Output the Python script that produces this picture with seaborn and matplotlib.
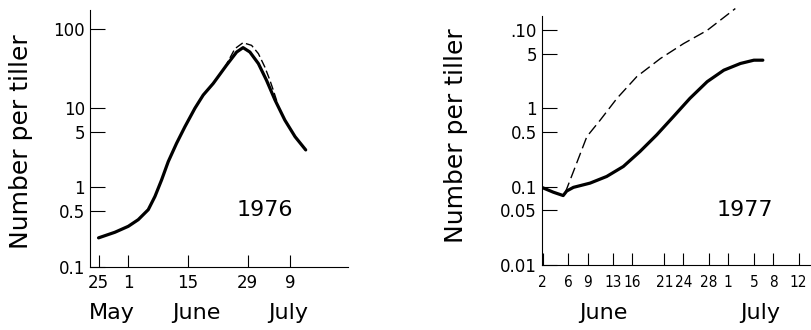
#!/usr/bin/env python3
"""Number per tiller through the season, 1976 and 1977 (log scale)

Usage:
    <program>
"""

# Modules
import matplotlib
matplotlib.use("Agg")

import pandas as pd
import matplotlib.pyplot as plt
import seaborn as sns
from matplotlib.ticker import FixedLocator, NullLocator, FixedFormatter

# Data
# 1976: days counted from 25 May
days_1976 = [0, 3.85, 6.97, 9.31, 11.66, 13.23, 14.8, 16.35, 18.3, 20.26, 22.6, 24.55,
             26.9, 30.0, 32.4, 33.9, 35.5, 37.5, 39.4, 41.4, 43.7, 46.1, 48.6]
solid_1976 = [0.231, 0.272, 0.323, 0.392, 0.524, 0.77, 1.25, 2.12, 3.61, 5.85, 10.0, 14.7,
              20.6, 34.9, 51.4, 58.4, 51.4, 36.7, 22.6, 12.7, 7.1, 4.38, 2.98]
dash_days_1976 = [29.5, 32.0, 33.9, 35.9, 37.5, 39.0, 40.2, 41.0, 42.0]
dash_1976 = [32.0, 56.7, 67.4, 62.4, 49.0, 33.3, 22.6, 16.9, 11.5]
xticks_1976 = [0, 7, 21, 35, 45]
xticklabels_1976 = ["25", "1", "15", "29", "9"]
yticks_1976 = [0.1, 0.5, 1, 5, 10, 100]
yticklabels_1976 = ["0.1", "0.5", "1", "5", "10", "100"]
months_1976 = ["May", "June", "July"]

# 1977: days counted from 31 May
days_1977 = [1.85, 3.66, 5.2, 5.75, 6.8, 9.4, 12, 14.6, 17.2, 19.8, 22.4, 25, 27.7, 30.3, 32.9, 35, 36.4]
solid_1977 = [0.098, 0.085, 0.077, 0.088, 0.098, 0.111, 0.135, 0.181, 0.281, 0.457, 0.78, 1.34, 2.19,
              3.07, 3.74, 4.12, 4.12]
dash_days_1977 = [5.5, 6.8, 8.9, 11, 13.6, 16.7, 20.4, 24, 27.7, 32.1]
dash_1977 = [0.083, 0.156, 0.436, 0.71, 1.34, 2.54, 4.33, 6.7, 9.9, 18.8]
xticks_1977 = [2, 6, 9, 13, 16, 21, 24, 28, 31, 35, 38, 42]
xticklabels_1977 = ["2", "6", "9", "13", "16", "21", "24", "28", "1", "5", "8", "12"]
yticks_1977 = [0.01, 0.05, 0.1, 0.5, 1, 5, 10]
yticklabels_1977 = ["0.01", "0.05", "0.1", "0.5", "1", "5", ".10"]
months_1977 = ["June", "July"]

# Style
sns.set_style("ticks")
plt.rcParams["font.family"] = ["DejaVu Sans"]
plt.rcParams["axes.linewidth"] = 0.8
for key in ["text.color", "axes.labelcolor", "xtick.color", "ytick.color", "axes.edgecolor"]:
    plt.rcParams[key] = "black"

fig = plt.figure(figsize=(8.11, 3.30), dpi=100)
ax1 = fig.add_axes([0.111, 0.192, 0.318, 0.778])
ax2 = fig.add_axes([0.668, 0.197, 0.331, 0.7545])

# Left panel, 1976
df = pd.DataFrame({"day": days_1976, "n": solid_1976})
dfd = pd.DataFrame({"day": dash_days_1976, "n": dash_1976})
sns.lineplot(data=dfd, x="day", y="n", ax=ax1, color="black", lw=1.0,
             linestyle=(0, (6, 2.5)), sort=False)
sns.lineplot(data=df, x="day", y="n", ax=ax1, color="black", lw=2.3, sort=False)

# Right panel, 1977
df = pd.DataFrame({"day": days_1977, "n": solid_1977})
dfd = pd.DataFrame({"day": dash_days_1977, "n": dash_1977})
sns.lineplot(data=dfd, x="day", y="n", ax=ax2, color="black", lw=1.0,
             linestyle=(0, (8, 3.5)), sort=False, clip_on=False)
sns.lineplot(data=df, x="day", y="n", ax=ax2, color="black", lw=2.3, sort=False)

# Axes
settings = [
    (ax1, (-2.0, 58.5), (0.1, 175), xticks_1976, xticklabels_1976, yticks_1976, yticklabels_1976, 12, 5),
    (ax2, (1.85, 43.8), (0.01, 15.1), xticks_1977, xticklabels_1977, yticks_1977, yticklabels_1977, 11, 7),
]
for ax, xl, yl, xt, xtl, yt, ytl, xfs, xpad in settings:
    ax.set_yscale("log")
    ax.set_xlim(*xl)
    ax.set_ylim(*yl)
    ax.xaxis.set_major_locator(FixedLocator(xt))
    ax.xaxis.set_major_formatter(FixedFormatter(xtl))
    ax.yaxis.set_major_locator(FixedLocator(yt))
    ax.yaxis.set_major_formatter(FixedFormatter(ytl))
    ax.yaxis.set_minor_locator(NullLocator())
    ax.xaxis.set_minor_locator(NullLocator())
    sns.despine(ax=ax)
    ax.tick_params(axis="y", direction="in", length=11, width=0.8, pad=3.5, labelsize=12)
    ax.tick_params(axis="x", direction="in", length=9, width=0.8, pad=xpad, labelsize=xfs)
    ax.set_xlabel("")
    ax.set_ylabel("Number per tiller", fontsize=18)

for lbl in ax2.get_xticklabels():
    lbl.set_fontstretch("condensed")

ax1.yaxis.set_label_coords(-0.221, 0.488)
ax2.yaxis.set_label_coords(-0.274, 0.518)

ax1.text(0.678, 0.221, "1976", transform=ax1.transAxes, fontsize=16, ha="center", va="center")
ax2.text(0.758, 0.221, "1977", transform=ax2.transAxes, fontsize=16, ha="center", va="center")

# Month names under the day ticks
for name, xpos in zip(months_1976, [0.1377, 0.2425, 0.355]):
    fig.text(xpos, 0.0515, name, fontsize=16, ha="center", va="center")
for name, xpos in zip(months_1977, [0.744, 0.937]):
    fig.text(xpos, 0.0515, name, fontsize=16, ha="center", va="center")

fig.savefig("out.png", dpi=100)
